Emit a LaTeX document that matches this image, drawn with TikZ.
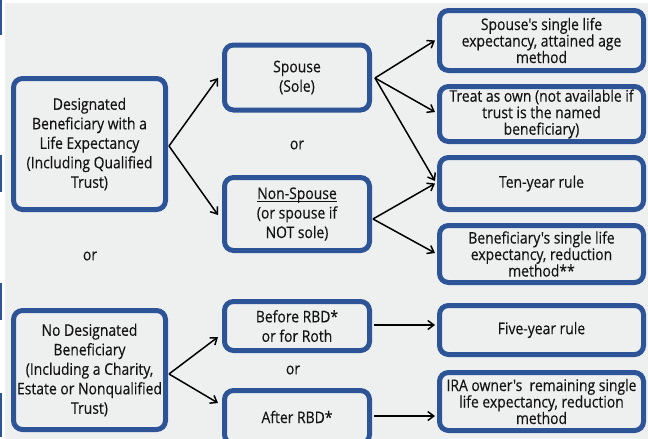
\documentclass[tikz,border=0pt]{standalone}
\usepackage{fontspec}
\setmainfont{Open Sans}[FakeStretch=0.87,FakeBold=0.35,Ligatures=TeXOff]
\usetikzlibrary{arrows.meta,calc}
\definecolor{bgc}{HTML}{EEF0F0}
\definecolor{bluec}{HTML}{2C5496}
\definecolor{txt}{HTML}{141414}
\newlength\myulw
\newcommand\myul[1]{\settowidth{\myulw}{#1}\rlap{\rule[-2.6pt]{\myulw}{0.9pt}}#1}
\begin{document}
\begin{tikzpicture}[x=1pt,y=-1pt,
  box/.style={draw=bluec, line width=5pt, rounded corners=9pt, fill=bgc, inner sep=0pt,
    align=center, text=txt, font=\fontsize{16}{19.5}\selectfont},
  rbox/.style={box, font=\fontsize{16}{16.5}\selectfont},
  arr/.style={-{Straight Barb[length=6pt,width=9pt]}, line width=1.5pt, black},
  ortext/.style={text=txt, font=\fontsize{16}{19.5}\selectfont, inner sep=0pt}]
\useasboundingbox (0,0) rectangle (648,439);
\fill[white] (0,0) rectangle (648,439);
\fill[bgc] (5,3) rectangle (648,439);
\fill[bluec] (0,0) rectangle (2,35);
\fill[bluec] (0,155) rectangle (2,192);
\fill[bluec] (0,283) rectangle (2,320);
\fill[bluec] (0,393) rectangle (2,437);
\begin{scope}
\clip (0,0) rectangle (648,439);
% left column
\node[box, minimum width=152pt, minimum height=131pt] (A) at (89.5,144)
  {Designated\\Beneficiary with a\\Life Expectancy\\(Including Qualified\\Trust)};
\node[box, minimum width=152pt, minimum height=119pt] (B) at (89.5,370)
  {No Designated\\Beneficiary\\(Including a Charity,\\Estate or Nonqualified\\Trust)};
\node[ortext] (or1) at (90,256) {or};
% middle column
\node[box, minimum width=145pt, minimum height=65pt] (Sp) at ([yshift=-1.5pt]297,76) {Spouse\\(Sole)};
\node[box, minimum width=145pt, minimum height=73pt] (NS) at (297,214)
  {\myul{Non-Spouse}\\(or spouse if\\NOT sole)};
\node[ortext] (or2) at (297,145) {or};
\node[box, minimum width=145pt, minimum height=49pt] (Be) at (297,326) {Before RBD*\\or for Roth};
\node[ortext] (or3) at (293,370) {or};
\node[box, minimum width=145pt, minimum height=53pt] (Af) at (297,417) {After RBD*};
% right column
\node[rbox, minimum width=204pt, minimum height=60pt] (R1) at (541.5,40.5)
  {Spouse's single life\\expectancy, attained age\\method};
\node[rbox, minimum width=204pt, minimum height=55pt] (R2) at (541.5,114)
  {Treat as own (not available if\\trust is the named\\beneficiary)};
\node[rbox, minimum width=204pt, minimum height=52pt] (R3) at (541.5,183.5) {Ten-year rule};
\node[rbox, minimum width=204pt, minimum height=57pt] (R4) at (541.5,254)
  {Beneficiary's single life\\expectancy, reduction\\method**};
\node[rbox, minimum width=204pt, minimum height=49pt] (R5) at (541.5,330) {Five-year rule};
\node[rbox, minimum width=204pt, minimum height=58pt] (R6) at (541.5,401.5)
  {IRA owner's\ \ remaining single\\life expectancy, reduction\\method};
\end{scope}
% arrows
\draw[arr] ($(A.east)+(1,2)$) -- ($(Sp.west)+(-4,0.5)$);
\draw[arr] ($(A.east)+(1,2)$) -- ($(NS.west)+(-4,1)$);
\draw[arr] ($(Sp.east)+(3,0.5)$) -- ($(R1.west)+(-2,0)$);
\draw[arr] ($(Sp.east)+(3,0.5)$) -- ($(R2.west)+(-2,-2)$);
\draw[arr] ($(Sp.east)+(3,0.5)$) -- ($(R3.west)+(-2,-2.5)$);
\draw[arr] ($(NS.east)+(1,5)$) -- ($(R3.west)+(-2,0)$);
\draw[arr] ($(NS.east)+(1,5)$) -- ($(R4.west)+(-2,-1)$);
\draw[arr] ($(B.east)+(1,4)$) -- ($(Be.west)+(-4,11)$);
\draw[arr] ($(B.east)+(1,4)$) -- ($(Af.west)+(-4,-14)$);
\draw[arr] ($(Be.east)+(2,-1)$) -- ($(Be.east -| R5.west)+(-2,-1)$);
\draw[arr] ($(Af.east)+(2,-1)$) -- ($(Af.east -| R6.west)+(-2,-1)$);
\end{tikzpicture}
\end{document}
